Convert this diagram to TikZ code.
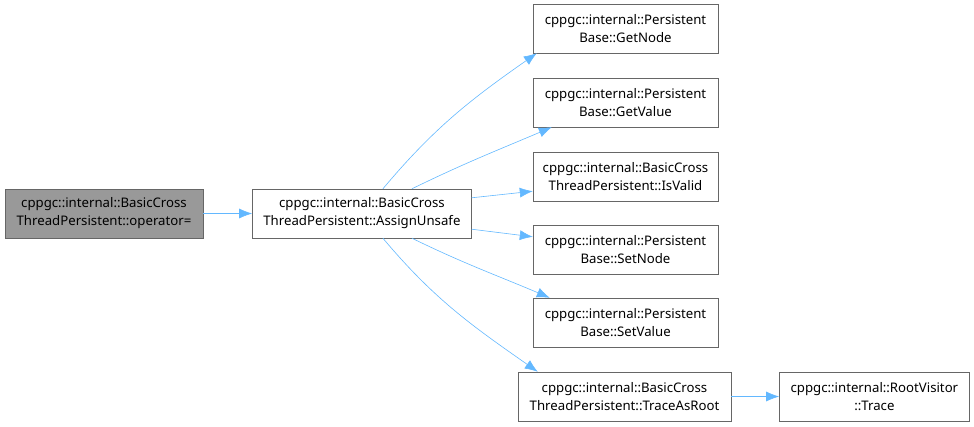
\documentclass[tikz,border=0pt]{standalone}
\usepackage{fontspec}
\setmainfont{Noto Sans}
\usetikzlibrary{arrows.meta,positioning}

\definecolor{edgeblue}{HTML}{63B8FF}
\definecolor{boxline}{HTML}{666666}
\definecolor{rootfill}{HTML}{999999}

\begin{document}
\begin{tikzpicture}[
  x=1pt, y=-1pt,
  font=\fontsize{13.2}{18}\selectfont,
  box/.style={draw=boxline, fill=white, align=center, inner sep=2pt,
              minimum height=49pt, minimum width=185pt},
  arr/.style={-{Latex[length=13pt,width=10pt]}, color=edgeblue, semithick}
]
\useasboundingbox (0,0) rectangle (974,426);
\node[box, fill=rootfill, minimum width=198pt] (root) at (104,213.5)
  {cppgc::internal::BasicCross\\ThreadPersistent::operator=};
\node[box, minimum width=219pt, right=49pt of root] (au)
  {cppgc::internal::BasicCross\\ThreadPersistent::AssignUnsafe};
\node[box] (gn) at (625.5,28.5) {cppgc::internal::Persistent\\Base::GetNode};
\node[box] (gv) at (625.5,102.5) {cppgc::internal::Persistent\\Base::GetValue};
\node[box] (iv) at (625.5,176.5) {cppgc::internal::BasicCross\\ThreadPersistent::IsValid};
\node[box] (sn) at (625.5,249.5) {cppgc::internal::Persistent\\Base::SetNode};
\node[box] (sv) at (625.5,322.5) {cppgc::internal::Persistent\\Base::SetValue};
\node[box, minimum width=213pt] (tr) at (624.5,396.5)
  {cppgc::internal::BasicCross\\ThreadPersistent::TraceAsRoot};
\node[box, minimum width=190pt, right=48pt of tr] (tc)
  {cppgc::internal::RootVisitor\\::Trace};
% calls
\draw[arr] (root) -- (au);
\draw[arr] ([xshift=21pt]au.north) to[out=50,in=-145] ([xshift=4pt]gn.south west);
\draw[arr] ([xshift=50pt]au.north) to[out=26,in=-157] ([xshift=19pt]gv.south west);
\draw[arr] ([yshift=-9pt]au.north east) -- ([yshift=10pt]iv.south west);
\draw[arr] ([yshift=9pt]au.south east) -- ([yshift=-12pt]sn.north west);
\draw[arr] ([xshift=50pt]au.south) to[out=-26,in=157] ([xshift=17pt]sv.north west);
\draw[arr] ([xshift=21pt]au.south) to[out=-50,in=145] ([xshift=20pt]tr.north west);
\draw[arr] (tr) -- (tc);
\end{tikzpicture}
\end{document}
